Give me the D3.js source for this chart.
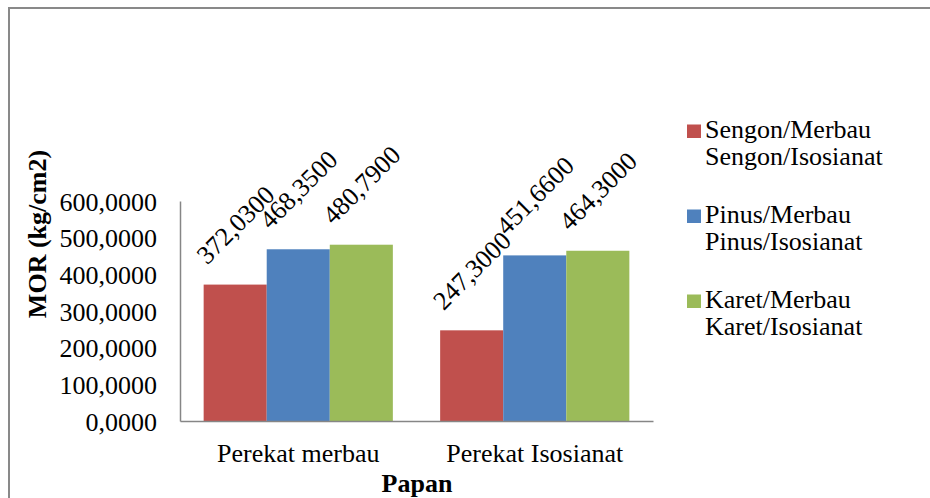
<!DOCTYPE html>
<html>
<head>
<meta charset="utf-8">
<script src="https://cdn.jsdelivr.net/npm/d3@7"></script>
<style>
  html, body { margin: 0; padding: 0; background: #fff; }
  svg { display: block; }
</style>
</head>
<body>
<svg id="chart" width="930" height="498"></svg>
<script>
const categories = ["Perekat merbau", "Perekat Isosianat"];
const seriesNames = [
  ["Sengon/Merbau", "Sengon/Isosianat"],
  ["Pinus/Merbau", "Pinus/Isosianat"],
  ["Karet/Merbau", "Karet/Isosianat"]
];
const sengon = [372.03, 247.30];
const pinus = [468.35, 451.66];
const karet = [480.79, 464.30];
const yTicks = [0, 100, 200, 300, 400, 500, 600];
const colors = ["#C0504D", "#4F81BD", "#9BBB59"];

const series = [sengon, pinus, karet];
const fmt = v => v.toFixed(4).replace(".", ",");

const FONT = "'Liberation Serif', 'Times New Roman', serif";
const svg = d3.select("#chart").style("font-family", FONT);
const fontSize = 26;

function styleText(sel, bold) {
  sel.style("font-family", FONT).style("font-size", fontSize + "px").style("fill", "#000");
  if (bold) sel.style("font-weight", "bold");
  return sel;
}

// outer frame
svg.append("path")
  .attr("d", "M9,498 L9,8 L930,8")
  .attr("fill", "none").attr("stroke", "#898989").attr("stroke-width", 2);

const plot = { left: 180, right: 653, top: 201, bottom: 421 };

const x0 = d3.scaleBand().domain(categories).range([plot.left, plot.right]).paddingInner(0.2).paddingOuter(0.1);
const x1 = d3.scaleBand().domain(d3.range(series.length)).range([0, x0.bandwidth()]);
const y = d3.scaleLinear().domain([0, 600]).range([plot.bottom, plot.top]);

// bars
categories.forEach((c, ci) => {
  series.forEach((s, si) => {
    svg.append("rect")
      .attr("x", x0(c) + x1(si))
      .attr("y", y(s[ci]))
      .attr("width", x1.bandwidth())
      .attr("height", y(0) - y(s[ci]))
      .attr("fill", colors[si]);
  });
});

// axes
const yAxis = svg.append("g").attr("transform", `translate(${plot.left},0)`)
  .call(d3.axisLeft(y).tickValues(yTicks).tickFormat(fmt).tickSize(0).tickPadding(23));
yAxis.attr("font-family", null).attr("font-size", null);
yAxis.select(".domain").attr("stroke", "#868686").attr("stroke-width", 1.5);
styleText(yAxis.selectAll("text")).attr("dy", "0.35em");

const xAxis = svg.append("g").attr("transform", `translate(0,${plot.bottom})`)
  .call(d3.axisBottom(x0).tickSize(0).tickPadding(23));
xAxis.attr("font-family", null).attr("font-size", null);
xAxis.select(".domain").attr("stroke", "#868686").attr("stroke-width", 1.5);
styleText(xAxis.selectAll("text"));

// data labels
categories.forEach((c, ci) => {
  series.forEach((s, si) => {
    const cx = x0(c) + x1(si) + x1.bandwidth() / 2;
    const cy = y(s[ci]) - 60;
    styleText(svg.append("text"))
      .attr("transform", `translate(${cx},${cy}) rotate(-45)`)
      .attr("text-anchor", "middle")
      .attr("dy", "0.35em")
      .text(fmt(s[ci]));
  });
});

// axis titles
styleText(svg.append("text"), true)
  .attr("x", 417)
  .attr("y", 492)
  .attr("text-anchor", "middle")
  .text("Papan");

styleText(svg.append("text"), true)
  .attr("transform", "translate(46,234) rotate(-90)")
  .attr("text-anchor", "middle")
  .text("MOR (kg/cm2)");

// legend
const legend = svg.append("g");
seriesNames.forEach((names, i) => {
  const by = 138 + i * 85;
  legend.append("rect").attr("x", 687).attr("y", by - 13.5).attr("width", 14).attr("height", 13.5).attr("fill", colors[i]);
  names.forEach((n, j) => {
    styleText(legend.append("text")).attr("x", 705).attr("y", by + j * 27).text(n);
  });
});
</script>
</body>
</html>
